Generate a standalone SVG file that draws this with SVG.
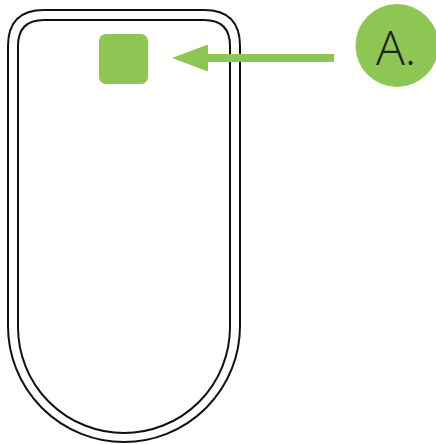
<svg xmlns="http://www.w3.org/2000/svg" width="436" height="444" viewBox="0 0 436 444">
<defs>
<style>
.outline{fill:none;stroke:#111;stroke-width:2}
.green{fill:#8dc653}
.lbl{font-family:"Open Sans","Liberation Sans",sans-serif;font-weight:300;font-size:48px;fill:#231f20}
</style>
</defs>
<rect width="436" height="444" fill="#fff"/>
<g id="device">
<path class="outline" d="M8,326 L8,46 Q8,10 44,10 L204,10 Q240,10 240,46 L240,326 A116,116 0 0 1 8,326 Z"/>
<path class="outline" d="M18,327 L18,46 Q18,20 44,20 L204,20 Q230,20 230,46 L230,327 A106,106 0 0 1 18,327 Z"/>
</g>
<g id="button">
<rect class="green" x="99" y="34" width="49" height="50" rx="7"/>
</g>
<g id="connectors">
<line x1="334" y1="58" x2="205" y2="58" stroke="#8dc653" stroke-width="8"/>
<path class="green" d="M208,44.5 L172,58 L208,71.5 Z"/>
</g>
<g id="label-A">
<circle class="green" cx="397" cy="45.5" r="41.5"/>
<text class="lbl" x="376" y="64.5">A.</text>
</g>
</svg>
